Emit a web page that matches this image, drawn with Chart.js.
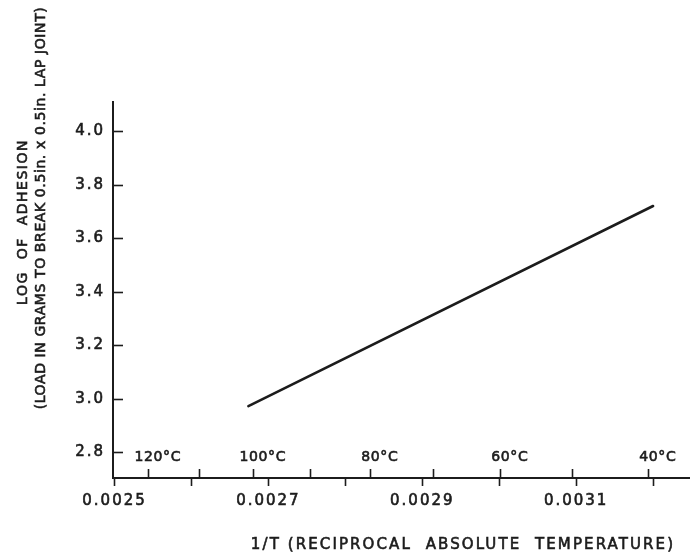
<!DOCTYPE html>
<html>
<head>
<meta charset="utf-8">
<script src="https://cdn.jsdelivr.net/npm/chart.js@4"></script>
<style>
    html, body { margin: 0; padding: 0; background: #fff; }
    #wrap { width: 690px; height: 556px; }
</style>
</head>
<body>
<div id="wrap"><canvas id="chart"></canvas></div>
<script>
// Data
const lineX = [0.002674, 0.0032];   // 1/T at the ends of the fitted line
const lineY = [2.973, 3.721];       // log of adhesion at those ends

// Axis ticks
const xTickValues = [0.0025, 0.0026, 0.0027, 0.0028, 0.0029, 0.0030, 0.0031, 0.0032];
const xTickLabels = ["0.0025", "", "0.0027", "", "0.0029", "", "0.0031", ""];
const yTickValues = [2.8, 3.0, 3.2, 3.4, 3.6, 3.8, 4.0];
const tempTicks = [120, 110, 100, 90, 80, 70, 60, 50, 40];
const tempLabels = ["120", "", "100", "", "80", "", "60", "", "40"];

const ink = "#1c1c1c";
const fontFamily = "'DejaVu Sans', sans-serif";

// Small helper for spaced lettering, stroked a little to look like pen work
function drawText(ctx, text, x, y, size, spacing, align) {
    ctx.font = size + "px " + fontFamily;
    ctx.letterSpacing = spacing + "px";
    ctx.textAlign = align || "left";
    ctx.lineWidth = 0.6;
    ctx.fillText(text, x, y);
    ctx.strokeText(text, x, y);
}

// Inward y ticks, temperature scale and axis titles
const extrasPlugin = {
    id: "extras",
    beforeDraw(chart) {
        chart.ctx.letterSpacing = "2px";
    },
    afterDraw(chart) {
        const ctx = chart.ctx;
        const x = chart.scales.x;
        const y = chart.scales.y;
        const area = chart.chartArea;
        ctx.save();
        ctx.strokeStyle = ink;
        ctx.fillStyle = ink;

        // y ticks point into the plot
        ctx.lineWidth = 1.6;
        yTickValues.forEach((v) => {
            const py = Math.round(y.getPixelForValue(v)) + 0.5;
            ctx.beginPath();
            ctx.moveTo(area.left, py);
            ctx.lineTo(area.left + 10, py);
            ctx.stroke();
        });

        // temperature ticks above the x axis
        ctx.textBaseline = "alphabetic";
        tempTicks.forEach((t, i) => {
            const px = Math.round(x.getPixelForValue(1 / (t + 273.15))) + 0.5;
            ctx.lineWidth = 1.6;
            ctx.beginPath();
            ctx.moveTo(px, area.bottom);
            ctx.lineTo(px, area.bottom - 9);
            ctx.stroke();
            if (tempLabels[i]) {
                ctx.font = "14px " + fontFamily;
                ctx.letterSpacing = "0.6px";
                const numW = ctx.measureText(tempLabels[i]).width - 0.6;
                drawText(ctx, tempLabels[i] + "°C", px - numW / 2, 461, 14, 0.6, "left");
            }
        });

        // x axis title
        ctx.textBaseline = "alphabetic";
        drawText(ctx, "1/T (RECIPROCAL  ABSOLUTE  TEMPERATURE)", 463, 549, 15, 2.1, "center");

        // y axis title, two lines
        ctx.textBaseline = "middle";
        ctx.save();
        ctx.translate(23, 222);
        ctx.rotate(-Math.PI / 2);
        drawText(ctx, "LOG  OF  ADHESION", 0, 0, 14, 1.5, "center");
        ctx.restore();
        ctx.save();
        ctx.translate(41, 208);
        ctx.rotate(-Math.PI / 2);
        drawText(ctx, "(LOAD IN GRAMS TO BREAK 0.5in. x 0.5in. LAP JOINT)", 0, 0, 14, 0.6, "center");
        ctx.restore();

        ctx.restore();
    }
};

// Chart
const ctx = document.getElementById("chart").getContext("2d");
new Chart(ctx, {
    type: "scatter",
    data: {
        datasets: [{
            data: lineX.map((v, i) => ({ x: v, y: lineY[i] })),
            showLine: true,
            borderColor: ink,
            borderWidth: 2.6,
            borderCapStyle: "round",
            pointRadius: 0,
        }],
    },
    options: {
        responsive: true,
        maintainAspectRatio: false,
        animation: false,
        layout: { padding: { top: 102, right: 0, bottom: 0, left: 0 } },
        plugins: {
            legend: { display: false },
            tooltip: { enabled: false },
        },
        scales: {
            x: {
                type: "linear",
                position: "bottom",
                min: 0.002498,
                max: 0.003248,
                afterBuildTicks: (axis) => {
                    axis.ticks = xTickValues.map((v) => ({ value: v }));
                },
                afterFit: (axis) => { axis.height = 78; },
                ticks: {
                    autoSkip: false,
                    maxRotation: 0,
                    padding: 6,
                    color: ink,
                    textStrokeColor: ink,
                    textStrokeWidth: 0.6,
                    font: { family: fontFamily, size: 15 },
                    callback: (v, i) => xTickLabels[i],
                },
                grid: {
                    drawOnChartArea: false,
                    drawTicks: true,
                    tickLength: 8,
                    tickWidth: 1.6,
                    tickColor: ink,
                },
                border: { display: true, color: ink, width: 2 },
            },
            y: {
                type: "linear",
                min: 2.704,
                max: 4.11,
                afterBuildTicks: (axis) => {
                    axis.ticks = yTickValues.map((v) => ({ value: v }));
                },
                afterFit: (axis) => { axis.width = 113; },
                ticks: {
                    padding: 8,
                    color: ink,
                    textStrokeColor: ink,
                    textStrokeWidth: 0.6,
                    font: { family: fontFamily, size: 15 },
                    callback: (v) => v.toFixed(1),
                },
                grid: { drawOnChartArea: false, drawTicks: false },
                border: { display: true, color: ink, width: 2 },
            },
        },
    },
    plugins: [extrasPlugin],
});
</script>
</body>
</html>
